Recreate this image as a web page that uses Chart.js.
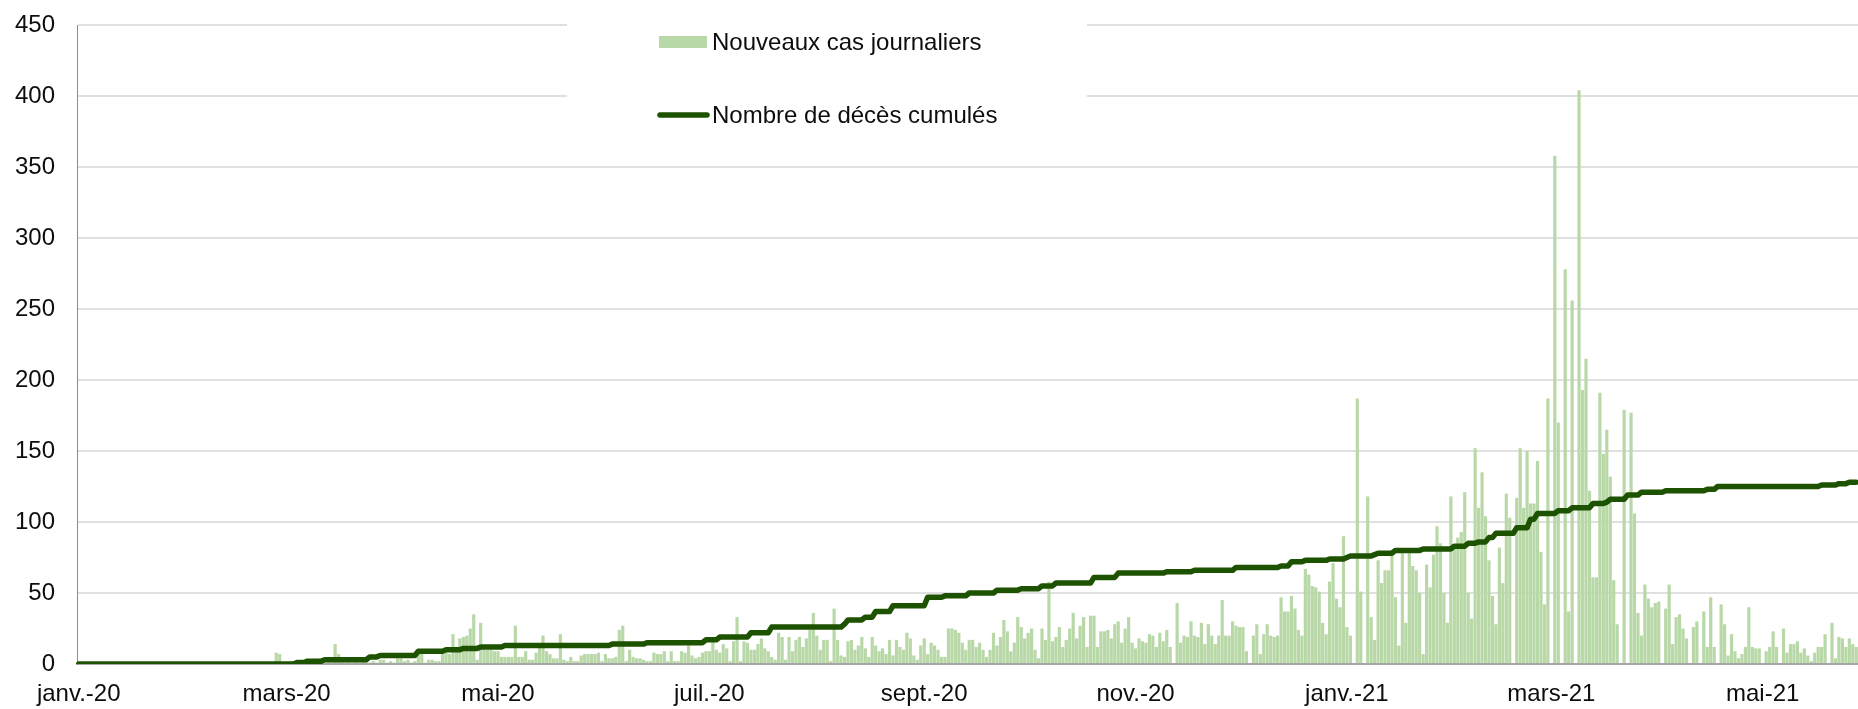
<!DOCTYPE html>
<html lang="fr">
<head>
<meta charset="utf-8">
<title>Nouveaux cas et décès cumulés</title>
<script src="https://cdn.jsdelivr.net/npm/chart.js@4.4.1/dist/chart.umd.min.js"></script>
<style>
  html, body { margin: 0; padding: 0; background: #fff; overflow: hidden; }
  #wrap { position: relative; width: 1858px; height: 709px; }
  canvas { display: block; }
</style>
</head>
<body>
<div id="wrap"><canvas id="casChart"></canvas></div>
<script>
// Premier jour de la série (un point par jour)
const startDate = '2020-01-01';
const dayCount = 514;

// Étiquettes de l'axe des abscisses (une sur deux mois)
const tickDates = ['2020-01-01', '2020-03-01', '2020-05-01', '2020-07-01', '2020-09-01', '2020-11-01', '2021-01-01', '2021-03-01', '2021-05-01'];
const tickLabels = ['janv.-20', 'mars-20', 'mai-20', 'juil.-20', 'sept.-20', 'nov.-20', 'janv.-21', 'mars-21', 'mai-21'];

// Nouveaux cas journaliers (un mois par ligne)
const newCases = [
  0,0,0,0,0,0,0,0,0,0, 0,0,0,0,0,0,0,0,0,0, 0,0,0,0,0,0,0,0,0,0, 0,
  0,0,0,0,0,0,0,0,0,0, 0,0,0,0,0,0,0,0,0,0, 0,0,0,0,0,0,8,7,0,
  0,1,2,1,0,1,1,3,2,1, 2,1,2,1,14,7,2,1,2,1, 2,1,3,3,1,2,1,3,3,1, 2,
  1,4,4,2,3,1,2,7,8,1, 3,3,2,2,7,8,7,21,10,18, 19,20,25,35,3,29,10,10,10,9,
  9,5,5,5,5,27,5,5,9,3, 3,8,14,20,9,7,4,4,21,3, 2,5,2,2,6,7,7,7,7,8, 2,
  7,4,4,5,24,27,2,10,5,4, 4,3,2,2,8,7,7,9,2,9, 2,2,9,8,13,6,4,5,8,9,
  9,17,10,8,14,11,2,16,33,2, 16,15,10,10,14,18,11,9,5,3, 22,19,3,19,9,17,19,12,18,24, 36,
  20,10,17,17,2,39,17,6,5,16, 17,10,13,19,11,5,19,13,9,11, 7,17,6,17,12,10,22,18,6,3, 13,
  18,7,15,13,10,5,5,25,25,24, 22,15,10,17,17,12,15,10,5,10, 22,13,19,31,23,9,15,33,26,18,
  22,25,10,4,25,17,58,16,19,26, 12,17,25,36,18,27,33,12,34,34, 12,23,23,24,18,28,30,15,25,33, 15,
  11,18,16,15,21,20,12,22,16,24, 12,0,43,15,20,19,30,20,19,29, 14,28,20,14,20,45,20,20,30,27,
  26,26,9,0,20,28,7,21,28,20, 19,20,47,37,37,48,39,24,20,67, 63,55,54,51,29,21,58,71,46,40, 90,
  26,20,0,187,51,0,118,33,17,73, 57,66,66,77,47,13,78,29,78,69, 66,50,7,70,54,77,97,85,50,29, 118,
  83,89,93,121,50,32,152,110,135,104, 73,48,28,82,57,120,103,0,117,152, 110,150,113,113,143,79,42,187,
  0,358,170,0,278,37,256,0,404,193, 215,122,61,61,191,148,165,132,59,28, 0,179,0,177,106,36,20,56,46,40, 43,
  44,0,39,56,14,33,35,25,18,0, 26,30,0,37,12,47,12,0,42,28, 6,21,9,4,7,12,40,12,11,11,
  0,9,12,23,12,0,25,8,14,14, 16,8,11,6,2,8,12,12,21,0, 29,4,19,18,12,18,14,12
];

// Nombre de décès cumulés (un mois par ligne)
const deaths = [
  0,0,0,0,0,0,0,0,0,0, 0,0,0,0,0,0,0,0,0,0, 0,0,0,0,0,0,0,0,0,0, 0,
  0,0,0,0,0,0,0,0,0,0, 0,0,0,0,0,0,0,0,0,0, 0,0,0,0,0,0,0,0,0,
  0,0,0,1,1,1,2,2,2,2, 2,3,3,3,3,3,3,3,3,3, 3,3,3,3,5,5,5,6,6,6, 6,
  6,6,6,6,6,6,6,9,9,9, 9,9,9,9,9,10,10,10,10,10, 11,11,11,11,11,12,12,12,12,12,
  12,12,13,13,13,13,13,13,13,13, 13,13,13,13,13,13,13,13,13,13, 13,13,13,13,13,13,13,13,13,13, 13,
  13,13,14,14,14,14,14,14,14,14, 14,14,15,15,15,15,15,15,15,15, 15,15,15,15,15,15,15,15,15,17,
  17,17,17,19,19,19,19,19,19,19, 19,19,22,22,22,22,22,22,26,26, 26,26,26,26,26,26,26,26,26,26, 26,
  26,26,26,26,26,26,26,26,28,31, 31,31,31,31,33,33,33,37,37,37, 37,37,41,41,41,41,41,41,41,41, 41,
  41,47,47,47,47,47,48,48,48,48, 48,48,48,50,50,50,50,50,50,50, 50,52,52,52,52,52,52,52,53,53,
  53,53,53,53,55,55,55,55,57,57, 57,57,57,57,57,57,57,57,57,61, 61,61,61,61,61,61,64,64,64,64, 64,
  64,64,64,64,64,64,64,64,64,65, 65,65,65,65,65,65,65,66,66,66, 66,66,66,66,66,66,66,66,66,68,
  68,68,68,68,68,68,68,68,68,68, 68,68,69,69,69,72,72,72,72,73, 73,73,73,73,73,73,74,74,74,74, 74,
  75,76,76,76,76,76,76,76,77,78, 78,78,78,78,80,80,80,80,80,80, 80,80,81,81,81,81,81,81,81,81, 81,
  83,83,83,83,85,85,85,86,86,86, 89,89,92,92,92,92,92,92,96,96, 96,96,102,102,106,106,106,106,
  106,106,108,108,108,108,110,110,110,110, 110,110,113,113,113,113,114,116,116,116, 116,116,119,119,119,119,121,121,121,121, 121,
  121,121,122,122,122,122,122,122,122,122, 122,122,122,122,123,123,123,125,125,125, 125,125,125,125,125,125,125,125,125,125,
  125,125,125,125,125,125,125,125,125,125, 125,125,125,125,125,125,125,126,126,126, 126,126,127,127,127,128,128,128
];

// Catégories : une date par jour
const days = [];
const d0 = new Date(startDate + 'T00:00:00Z');
for (let i = 0; i < dayCount; i++) {
    const d = new Date(d0.getTime() + i * 86400000);
    days.push(d.toISOString().slice(0, 10));
}

const FONT = "'Liberation Sans', Arial, sans-serif";
const barColor = '#b9d8a7';
const lineColor = '#1d5200';

// Légende dessinée dans la zone du graphique, sur fond blanc
const legendBox = {
    id: 'legendBox',
    beforeDatasetsDraw(chart) {
        const c = chart.ctx;
        const bars = chart.data.datasets[1];
        const line = chart.data.datasets[0];
        c.save();
        c.fillStyle = '#fff';
        c.fillRect(567, 18, 520, 93);

        c.fillStyle = bars.backgroundColor;
        c.fillRect(659, 36, 48, 12);

        c.strokeStyle = line.borderColor;
        c.lineWidth = line.borderWidth;
        c.lineCap = 'round';
        c.beginPath();
        c.moveTo(660, 115);
        c.lineTo(707, 115);
        c.stroke();

        c.fillStyle = '#0d0d0d';
        c.font = '24px ' + FONT;
        c.textBaseline = 'middle';
        c.textAlign = 'left';
        c.fillText(bars.label, 712, 43);
        c.fillText(line.label, 712, 116);
        c.restore();
    }
};

document.addEventListener('DOMContentLoaded', () => {
    const ctx = document.getElementById('casChart').getContext('2d');
    new Chart(ctx, {
        type: 'bar',
        data: {
            labels: days,
            datasets: [
                {
                    type: 'line',
                    label: 'Nombre de décès cumulés',
                    data: deaths,
                    borderColor: lineColor,
                    backgroundColor: lineColor,
                    borderWidth: 5.5,
                    pointRadius: 0,
                    tension: 0,
                    borderJoinStyle: 'round',
                    borderCapStyle: 'round',
                    order: 0
                },
                {
                    type: 'bar',
                    label: 'Nouveaux cas journaliers',
                    data: newCases,
                    backgroundColor: barColor,
                    categoryPercentage: 1,
                    barPercentage: 0.92,
                    order: 1
                }
            ]
        },
        options: {
            responsive: true,
            maintainAspectRatio: false,
            animation: false,
            layout: { padding: { top: 25, left: 0, right: 0, bottom: 0 } },
            plugins: {
                legend: { display: false },
                tooltip: { enabled: false }
            },
            scales: {
                x: {
                    offset: true,
                    grid: { display: false },
                    border: { display: true, color: '#a6a6a6', width: 2 },
                    ticks: {
                        autoSkip: false,
                        maxRotation: 0,
                        minRotation: 0,
                        padding: 8,
                        color: '#0d0d0d',
                        font: { size: 24, family: FONT },
                        callback: function (value) {
                            const k = tickDates.indexOf(this.getLabelForValue(value));
                            return k >= 0 ? tickLabels[k] : '';
                        }
                    },
                    afterFit: (scale) => {
                        scale.height = 45;
                        scale.paddingLeft = 0;
                        scale.paddingRight = 0;
                    }
                },
                y: {
                    min: 0,
                    max: 450,
                    grid: { color: '#e0e0e0', lineWidth: 2, drawTicks: false },
                    border: { display: true, color: '#8c8c8c', width: 1 },
                    ticks: {
                        stepSize: 50,
                        padding: 22,
                        color: '#0d0d0d',
                        font: { size: 24, family: FONT }
                    },
                    afterFit: (scale) => {
                        scale.width = 77;
                        scale.paddingTop = 0;
                        scale.paddingBottom = 0;
                    }
                }
            }
        },
        plugins: [legendBox]
    });
});
</script>
</body>
</html>
